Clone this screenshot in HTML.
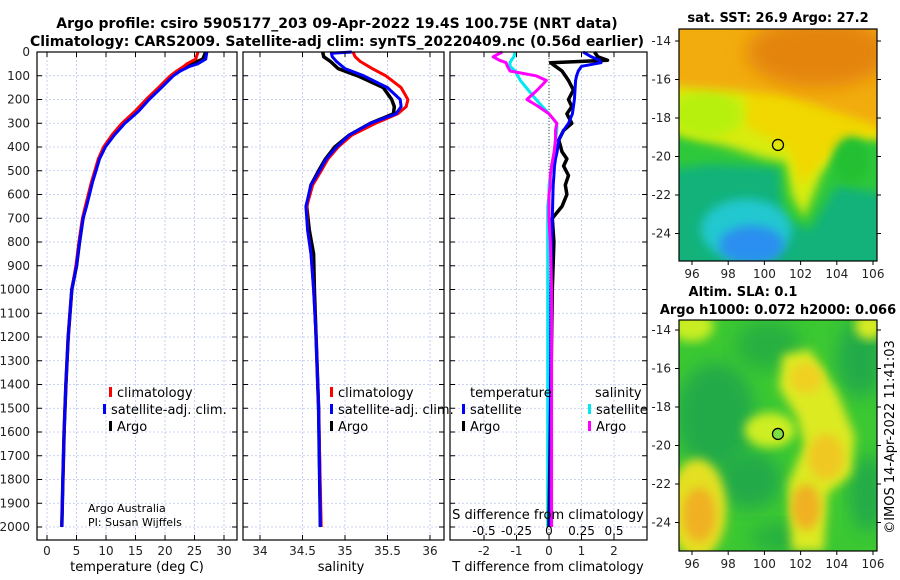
<!DOCTYPE html>
<html><head><meta charset="utf-8"><style>
html,body{margin:0;padding:0;background:#fff;}
svg{display:block;font-family:"DejaVu Sans","Liberation Sans",sans-serif;}
</style></head><body>
<svg id="fig" width="900" height="580" viewBox="0 0 900 580" xmlns="http://www.w3.org/2000/svg">
<defs>
<filter id="bl" x="-20%" y="-20%" width="140%" height="140%"><feGaussianBlur stdDeviation="5"/></filter>
<filter id="bl2" x="-20%" y="-20%" width="140%" height="140%"><feGaussianBlur stdDeviation="9"/></filter>
<clipPath id="c1"><rect x="679" y="29" width="198" height="232"/></clipPath>
<clipPath id="c2"><rect x="679" y="320" width="198" height="231"/></clipPath>
</defs>
<text x="337" y="28" text-anchor="middle" font-size="14" font-weight="bold">Argo profile: csiro 5905177_203 09-Apr-2022 19.4S 100.75E (NRT data)</text>
<text x="337" y="46" text-anchor="middle" font-size="14" font-weight="bold">Climatology: CARS2009. Satellite-adj clim: synTS_20220409.nc (0.56d earlier)</text>
<g id="plots"></g>
<g id="maps"></g>
</svg>
<script>
// ---- data ----
const tDepths = [0,30,50,60,80,100,150,200,250,300,350,400,450,500,550,600,650,700,800,900,1000,1200,1400,1600,1800,2000];
const tArgo   = [26.9,26.4,24.5,23.8,22.4,21.2,19.2,17.1,15.3,13.0,11.2,9.8,8.8,8.2,7.6,7.1,6.6,6.1,5.5,5.0,4.2,3.6,3.2,2.9,2.7,2.5];
const tClim   = [25.6,25.2,23.7,23.2,22.0,20.9,18.9,16.8,14.9,12.7,11.0,9.6,8.7,8.1,7.5,7.0,6.5,6.0,5.4,4.9,4.2,3.6,3.2,2.9,2.7,2.5];
const tSat    = [27.1,26.9,25.5,24.2,22.6,21.4,19.4,17.3,15.5,13.2,11.4,9.9,8.9,8.3,7.7,7.2,6.7,6.1,5.5,5.0,4.2,3.6,3.2,2.9,2.7,2.5];
const sDepths = [0,5,20,40,70,100,150,200,230,260,300,350,400,450,500,560,650,750,850,1000,1200,1500,2000];
const sArgo   = [34.74,34.74,34.75,34.83,34.92,35.15,35.45,35.55,35.58,35.57,35.3,35.05,34.88,34.77,34.69,34.6,34.55,34.58,34.63,34.64,34.66,34.69,34.71];
const sClim   = [35.10,35.10,35.12,35.18,35.32,35.48,35.66,35.74,35.72,35.62,35.36,35.08,34.92,34.8,34.72,34.62,34.55,34.56,34.6,34.63,34.66,34.69,34.72];
const sSat    = [35.08,34.84,34.85,34.9,35.0,35.22,35.5,35.65,35.66,35.6,35.3,35.05,34.9,34.78,34.7,34.6,34.54,34.56,34.6,34.63,34.66,34.69,34.71];
const dDepths = [0,20,35,45,60,80,100,120,160,200,230,260,300,330,370,420,450,480,520,560,600,650,700,800,1000,1500,2000];
const dTArgo  = [1.4,1.5,1.8,0.05,0.2,0.4,0.5,0.6,0.75,0.6,0.7,0.55,0.7,0.45,0.3,0.4,0.55,0.45,0.6,0.5,0.55,0.4,0.1,0.15,0.1,0.05,0.0];
const dTSat   = [1.05,1.3,1.55,1.6,1.0,0.9,0.85,0.82,0.8,0.78,0.75,0.72,0.6,0.45,0.3,0.25,0.2,0.17,0.15,0.13,0.12,0.11,0.1,0.08,0.06,0.05,0.03];
const dSSat   = [-0.26,-0.27,-0.29,-0.3,-0.3,-0.26,-0.24,-0.22,-0.16,-0.1,-0.05,0.0,0.06,0.06,0.05,0.04,0.03,0.02,0.01,0.0,0.0,-0.01,-0.01,-0.01,-0.01,-0.01,-0.01];
const dSArgo  = [-0.36,-0.43,-0.38,-0.33,-0.32,-0.3,-0.1,-0.02,-0.09,-0.17,-0.08,0.0,0.06,0.05,0.05,0.04,0.03,0.02,0.01,0.01,0.0,0.0,0.0,0.01,0.02,0.02,0.02];
const depthTicks = [0,100,200,300,400,500,600,700,800,900,1000,1100,1200,1300,1400,1500,1600,1700,1800,1900,2000];
const tTicks = [0,5,10,15,20,25,30];
const sTicks = [34,34.5,35,35.5,36];
const dTTicks = [-2,-1,0,1,2];
const dSTicks = [-0.5,-0.25,0,0.25,0.5];
const dSTickLabels = ["-0.5","-0.25","0","0.25","0.5"];

const NS="http://www.w3.org/2000/svg";
const G=document.getElementById('plots');
function el(tag,attrs,parent,txt){const e=document.createElementNS(NS,tag);for(const k in attrs)e.setAttribute(k,attrs[k]);if(txt!==undefined)e.textContent=txt;(parent||G).appendChild(e);return e;}
const yD=d=>52+d*0.2375;
const xT=t=>47+t*5.9;
const xS=s=>260+(s-34)*85;
const xdT=d=>549+d*32.5;
const xdS=d=>549+d*130;
const panels=[{x0:37,x1:237},{x0:243,x1:444},{x0:450,x1:647}];
const yTop=52,yBot=540;

function grid(p,ticks,fx){
  ticks.forEach(t=>{const l=el('line',{x1:fx(t),x2:fx(t),y1:yTop,y2:yBot,stroke:'#b8c4ec','stroke-width':0.8,'stroke-dasharray':'2,2'});
  });
  depthTicks.forEach(d=>{const l=el('line',{x1:p.x0,x2:p.x1,y1:yD(d),y2:yD(d),stroke:'#b8c4ec','stroke-width':0.8,'stroke-dasharray':'2,2'});
  });
}
function frame(p,ticks,fx,labels,name){
  const r=el('rect',{x:p.x0,y:yTop,width:p.x1-p.x0,height:yBot-yTop,fill:'none',stroke:'#000','stroke-width':1.2});
  
  depthTicks.forEach(d=>{el('line',{x1:p.x0,x2:p.x0+5,y1:yD(d),y2:yD(d),stroke:'#000'});el('line',{x1:p.x1-5,x2:p.x1,y1:yD(d),y2:yD(d),stroke:'#000'});});
  ticks.forEach((t,i)=>{el('line',{x1:fx(t),x2:fx(t),y1:yBot,y2:yBot-5,stroke:'#000'});el('line',{x1:fx(t),x2:fx(t),y1:yTop,y2:yTop+5,stroke:'#000'});
    const tx=el('text',{x:fx(t),y:555,'text-anchor':'middle','font-size':12,fill:'#222'},G,labels?labels[i]:String(t));
    });
}
function line(xs,ds,fx,color,name,w){
  const pts=xs.map((v,i)=>fx(v).toFixed(1)+','+yD(ds[i]).toFixed(1)).join(' ');
  const pl=el('polyline',{points:pts,fill:'none',stroke:color,'stroke-width':w||3,'stroke-linejoin':'round'});
  
}
function legend(x,y,color,label,name){
  const m=el('rect',{x:x,y:y-9,width:3,height:10,fill:color});
  
  const t=el('text',{x:x+8,y:y+1,'font-size':13},G,label);
  
}
// panel1
grid(panels[0],tTicks,xT);
line(tArgo,tDepths,xT,'#000','temperature-argo-line',3.5);
line(tClim,tDepths,xT,'#f00','temperature-climatology-line');
line(tSat,tDepths,xT,'#00f','temperature-satellite-adj-line');
frame(panels[0],tTicks,xT,null,'temperature');
depthTicks.forEach(d=>{const t=el('text',{x:30,y:yD(d)+4,'text-anchor':'end','font-size':12,fill:'#222'},G,String(d));
  });
legend(109,396,'#f00','climatology','legend-climatology');
legend(103,413,'#00f','satellite-adj. clim.','legend-satellite-adj');
legend(109,430,'#000','Argo','legend-argo');
let tt=el('text',{x:88,y:512,'font-size':11},G,'Argo Australia');
tt=el('text',{x:88,y:526,'font-size':11},G,'PI: Susan Wijffels');
tt=el('text',{x:137,y:571,'text-anchor':'middle','font-size':13},G,'temperature (deg C)');
// panel2
grid(panels[1],sTicks,xS);
line(sArgo,sDepths,xS,'#000','salinity-argo-line',3.5);
line(sClim,sDepths,xS,'#f00','salinity-climatology-line');
line(sSat,sDepths,xS,'#00f','salinity-satellite-adj-line');
frame(panels[1],sTicks,xS,null,'salinity');
legend(330,396,'#f00','climatology','legend-s-climatology');
legend(330,413,'#00f','satellite-adj. clim.','legend-s-satellite-adj');
legend(330,430,'#000','Argo','legend-s-argo');
tt=el('text',{x:341,y:571,'text-anchor':'middle','font-size':13},G,'salinity');
// panel3
grid(panels[2],dTTicks,xdT);
el('line',{x1:549,x2:549,y1:yTop,y2:yBot,stroke:'#335522','stroke-width':1,'stroke-dasharray':'1,2'});
line(dSSat,dDepths,xdS,'#00e8f0','salinity-diff-satellite-line');
line(dTArgo,dDepths,xdT,'#000','temperature-diff-argo-line',3.5);
line(dTSat,dDepths,xdT,'#00f','temperature-diff-satellite-line');
line(dSArgo,dDepths,xdS,'#f0f','salinity-diff-argo-line');
frame(panels[2],dTTicks,xdT,null,'tdiff');
tt=el('text',{x:470,y:397,'font-size':13},G,'temperature');
tt=el('text',{x:595,y:397,'font-size':13},G,'salinity');
legend(462,413,'#00f','satellite','legend-t-satellite');
legend(462,430,'#000','Argo','legend-t-argo');
legend(588,413,'#00e8f0','satellite','legend-s-satellite');
legend(588,430,'#f0f','Argo','legend-s-argo-diff');
tt=el('text',{x:548,y:519,'text-anchor':'middle','font-size':13},G,'S difference from climatology');
dSTicks.forEach((v,i)=>{const t=el('text',{x:xdS(v),y:535,'text-anchor':'middle','font-size':12},G,dSTickLabels[i]);});
tt=el('text',{x:548,y:571,'text-anchor':'middle','font-size':13},G,'T difference from climatology');

// ---- maps ----
const M=document.getElementById('maps');
const lonTicks=[96,98,100,102,104,106];
const latTicks=[-14,-16,-18,-20,-22,-24];
function mk(top,lat14){
  const X=lo=>692+(lo-96)*18.1, Y=la=>lat14+(-14-la)*19.25;
  return {X,Y};
}
function poly(g,pts,fill,P,filt){const s=pts.map(p=>P.X(p[0]).toFixed(1)+','+P.Y(p[1]).toFixed(1)).join(' ');return el('polygon',{points:s,fill:fill,filter:filt||'url(#bl)'},g);}
function ell(g,lo,la,rx,ry,fill,P,filt){return el('ellipse',{cx:P.X(lo),cy:P.Y(la),rx:rx*18.1,ry:ry*19.25,fill:fill,filter:filt||'url(#bl)'},g);}
function mapFrame(P,y0,y1,name){
  const r=el('rect',{x:679,y:y0,width:198,height:y1-y0,fill:'none',stroke:'#000','stroke-width':1.2},M);
  
  lonTicks.forEach(l=>{el('line',{x1:P.X(l),x2:P.X(l),y1:y1,y2:y1+4,stroke:'#000'},M);
    const t=el('text',{x:P.X(l),y:y1+17,'text-anchor':'middle','font-size':12,fill:'#222'},M,String(l));});
  latTicks.forEach(l=>{el('line',{x1:675,x2:679,y1:P.Y(l),y2:P.Y(l),stroke:'#000'},M);el('line',{x1:877,x2:881,y1:P.Y(l),y2:P.Y(l),stroke:'#000'},M);
    const t=el('text',{x:671,y:P.Y(l)+4,'text-anchor':'end','font-size':12,fill:'#222'},M,String(l));});
}
// SST map
const P1=mk(29,41);
const g1=el('g',{'clip-path':'url(#c1)'},M);
el('rect',{x:679,y:29,width:198,height:232,fill:'#12b27a'},g1);
poly(g1,[[94,-18.2],[107,-18.6],[107,-22],[104,-21.5],[102.5,-23.8],[101,-23.2],[100.8,-20.6],[97,-20.4],[94,-20.8]],'#2ec83a',P1);
poly(g1,[[94,-12],[107,-12],[107,-19],[104.5,-19],[103.2,-20.8],[102.2,-23.2],[101.5,-22],[101.2,-20.3],[100,-20.1],[98,-19.5],[94,-18.6]],'#d8ec10',P1);
poly(g1,[[99,-16],[107,-16],[107,-19],[104.5,-19.1],[103,-20.5],[102,-21.5],[101.3,-19.5],[99,-18.5]],'#f0d800',P1);
ell(g1,96.8,-17.8,2,1.2,'#b8f010',P1);
poly(g1,[[94,-12],[107,-12],[107,-18.6],[105,-18],[101,-16.8],[97,-16.5],[94,-16.3]],'#f2ac10',P1);
ell(g1,103,-14.6,4,1.8,'#e4840e',P1,'url(#bl2)');
ell(g1,99,-23.8,2.5,1.6,'#20c8d0',P1);
ell(g1,99.3,-24.6,1.8,1,'#2a8ff0',P1);
ell(g1,104.8,-20.2,1,1.2,'#22c030',P1);
el('circle',{cx:P1.X(100.75),cy:P1.Y(-19.4),r:5.5,fill:'none',stroke:'#000','stroke-width':1.3},M);
mapFrame(P1,29,261,'sst-map');
tt=el('text',{x:778,y:22,'text-anchor':'middle','font-size':13,'font-weight':'bold'},M,'sat. SST: 26.9 Argo: 27.2');
// SLA map
const P2=mk(320,330);
const g2=el('g',{'clip-path':'url(#c2)'},M);
el('rect',{x:679,y:320,width:198,height:231,fill:'#3cc832'},g2);
ell(g2,97.3,-18.5,2.2,2.8,'#22aa48',P2,'url(#bl2)');
ell(g2,99.2,-21.8,1.8,1.5,'#22aa48',P2,'url(#bl2)');
ell(g2,105.3,-15.5,1.3,2,'#22aa48',P2,'url(#bl2)');
ell(g2,105.7,-22.5,1,2,'#22aa48',P2,'url(#bl2)');
ell(g2,100.2,-14.8,1.8,1.3,'#28b040',P2,'url(#bl2)');
ell(g2,101.2,-24.8,2,0.8,'#28b040',P2,'url(#bl2)');
ell(g2,96.3,-23.3,1.6,2.6,'#e4e020',P2);
ell(g2,96.4,-23.6,0.9,1.4,'#f0b020',P2);
poly(g2,[[101,-15.3],[102.5,-15],[104,-17.2],[105,-19.5],[104.8,-21.5],[103.5,-22.5],[103.3,-25.5],[101.5,-25.5],[101.3,-22],[102.2,-20],[101.8,-18.5],[100.8,-17]],'#dcea20',P2);
ell(g2,102.3,-16.5,0.9,0.8,'#f0d020',P2);
ell(g2,103.4,-20.6,1,1.2,'#f0c820',P2);
ell(g2,102.3,-23.2,0.8,1.2,'#f0b020',P2);
ell(g2,100.3,-19.2,1.4,0.9,'#cdee20',P2);
ell(g2,96,-13.8,1.2,0.8,'#c8ee20',P2);
ell(g2,105.8,-13.8,0.8,0.7,'#d8ea20',P2);
el('circle',{cx:P2.X(100.75),cy:P2.Y(-19.4),r:5.5,fill:'#7ee040',stroke:'#000','stroke-width':1.3},M);
mapFrame(P2,320,551,'sla-map');
tt=el('text',{x:743,y:296,'text-anchor':'middle','font-size':13,'font-weight':'bold'},M,'Altim. SLA: 0.1');
tt=el('text',{x:778,y:314,'text-anchor':'middle','font-size':13,'font-weight':'bold'},M,'Argo h1000: 0.072 h2000: 0.066');
tt=el('text',{x:0,y:0,'text-anchor':'middle','font-size':13,transform:'translate(894,437) rotate(-90)'},M,'©IMOS 14-Apr-2022 11:41:03');
</script>
</body></html>
